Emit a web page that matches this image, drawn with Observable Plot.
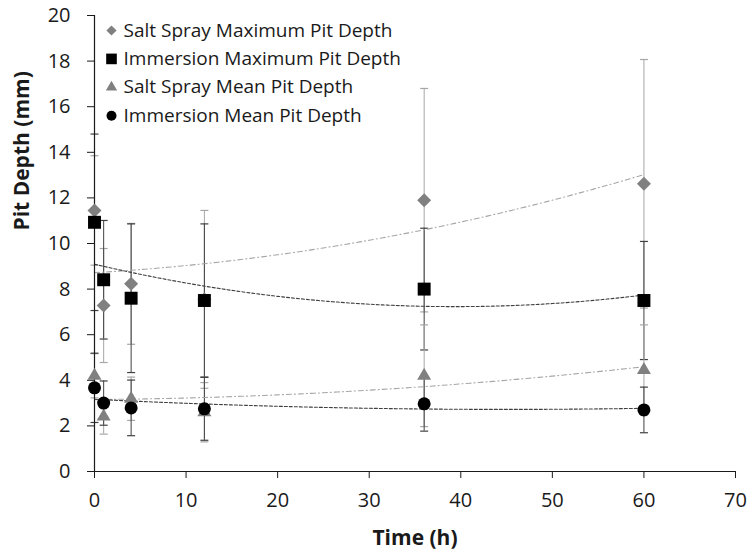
<!DOCTYPE html>
<html>
<head>
<meta charset="utf-8">
<script src="https://cdn.jsdelivr.net/npm/d3@7"></script>
<script src="https://cdn.jsdelivr.net/npm/@observablehq/plot@0.6"></script>
<style>
  html, body { margin: 0; padding: 0; background: #ffffff; }
  #chart { width: 749px; height: 556px; }
</style>
</head>
<body>
<div id="chart"></div>
<script>
// ---- data ----
const time = [0, 1, 4, 12, 36, 60];
const seriesNames = [
  "Salt Spray Maximum Pit Depth",
  "Immersion Maximum Pit Depth",
  "Salt Spray Mean Pit Depth",
  "Immersion Mean Pit Depth"
];
const saltSprayMax    = [11.45, 7.28, 8.23, 7.55, 11.9, 12.62];
const saltSprayMaxErr = [2.4, 2.5, 2.65, 3.9, 4.9, 5.45];
const immersionMax    = [10.93, 8.41, 7.6, 7.5, 8.0, 7.5];
const immersionMaxErr = [3.87, 2.6, 3.26, 3.36, 2.67, 2.59];
const saltSprayMean    = [4.2, 2.41, 3.19, 2.6, 4.2, 4.45];
const saltSprayMeanErr = [0.97, 0.77, 0.95, 1.3, 2.23, 1.98];
const immersionMean    = [3.67, 3.0, 2.79, 2.75, 2.97, 2.7];
const immersionMeanErr = [1.52, 0.97, 1.22, 1.38, 1.2, 1.0];
const xTicks = [0, 10, 20, 30, 40, 50, 60, 70];
const yTicks = [0, 2, 4, 6, 8, 10, 12, 14, 16, 18, 20];
const xLabel = "Time (h)";
const yLabel = "Pit Depth (mm)";

// ---- styles ----
const styles = [
  {symbol: "diamond2", r: 6.3, lr: 4.6, fill: "#808080", err: "#a6a6a6", trend: "#a6a6a6", dash: "5,3,1,3"},
  {symbol: "square",   r: 7.3, lr: 6.0, fill: "#000000", err: "#404040", trend: "#404040", dash: "3,2"},
  {symbol: "triangle", r: 5.2, lr: 4.2, fill: "#808080", err: "#a6a6a6", trend: "#a6a6a6", dash: "5,3,1,3"},
  {symbol: "circle",   r: 6.5, lr: 5.0, fill: "#000000", err: "#404040", trend: "#404040", dash: "3,2"}
];
const values = [saltSprayMax, immersionMax, saltSprayMean, immersionMean];
const errors = [saltSprayMaxErr, immersionMaxErr, saltSprayMeanErr, immersionMeanErr];

const tables = values.map((vals, s) => time.map((t, i) => ({
  series: seriesNames[s], t, v: vals[i], lo: vals[i] - errors[s][i], hi: vals[i] + errors[s][i]
})));

// quadratic least-squares trendline (as Excel's polynomial order 2)
function quadFit(xs, ys) {
  const S = k => d3.sum(xs, x => Math.pow(x, k));
  const T = k => d3.sum(xs, (x, i) => Math.pow(x, k) * ys[i]);
  const A = [[S(0), S(1), S(2), T(0)], [S(1), S(2), S(3), T(1)], [S(2), S(3), S(4), T(2)]];
  for (let c = 0; c < 3; c++) {
    for (let r = c + 1; r < 3; r++) {
      const f = A[r][c] / A[c][c];
      for (let k = c; k < 4; k++) A[r][k] -= f * A[c][k];
    }
  }
  const sol = [0, 0, 0];
  for (let r = 2; r >= 0; r--) {
    let s = A[r][3];
    for (let k = r + 1; k < 3; k++) s -= A[r][k] * sol[k];
    sol[r] = s / A[r][r];
  }
  return x => sol[0] + sol[1] * x + sol[2] * x * x;
}
const xs = d3.range(d3.min(time), d3.max(time) + 0.001, 0.5);
const trends = values.map(vals => {
  const f = quadFit(time, vals);
  return xs.map(x => ({t: x, v: f(x)}));
});

const capSymbol = {draw(ctx) { ctx.moveTo(-4, 0); ctx.lineTo(4, 0); }};

const marks = [];
// error bars
tables.forEach((tbl, s) => {
  marks.push(Plot.ruleX(tbl, {x: "t", y1: "lo", y2: "hi", stroke: styles[s].err, strokeWidth: 1}));
  marks.push(Plot.dot(tbl, {x: "t", y: "lo", symbol: capSymbol, stroke: styles[s].err, strokeWidth: 1.2, fill: "none"}));
  marks.push(Plot.dot(tbl, {x: "t", y: "hi", symbol: capSymbol, stroke: styles[s].err, strokeWidth: 1.2, fill: "none"}));
});
// trendlines
trends.forEach((tr, s) => {
  marks.push(Plot.line(tr, {x: "t", y: "v", stroke: styles[s].trend, strokeWidth: 1.1, strokeDasharray: styles[s].dash, curve: "linear"}));
});
// axes
marks.push(Plot.axisY({ticks: yTicks, tickSize: 7, tickPadding: 17, label: null, fontSize: 20, stroke: "#1a1a1a"}));
marks.push(Plot.axisX({ticks: xTicks, tickSize: 7, tickPadding: 14, label: null, fontSize: 20, stroke: "#1a1a1a"}));
marks.push(Plot.ruleX([0], {stroke: "#1a1a1a", strokeWidth: 1.2}));
marks.push(Plot.ruleY([0], {stroke: "#1a1a1a", strokeWidth: 1.2}));
// markers
tables.forEach((tbl, s) => {
  marks.push(Plot.dot(tbl, {x: "t", y: "v", symbol: styles[s].symbol, r: styles[s].r, fill: styles[s].fill, stroke: "none"}));
});
// axis titles
marks.push(Plot.text([yLabel], {frameAnchor: "left", rotate: -90, dx: -72, dy: -13, text: d => d, fontSize: 21, fontWeight: "bold", fill: "#1a1a1a"}));
marks.push(Plot.text([xLabel], {frameAnchor: "bottom", dy: 73, text: d => d, fontSize: 21, fontWeight: "bold", fill: "#1a1a1a"}));
// legend (inside plot, top-left)
seriesNames.forEach((name, s) => {
  const dy = 15 + s * 28.4;
  marks.push(Plot.dot([name], {frameAnchor: "top-left", dx: 17, dy, symbol: styles[s].symbol, r: styles[s].lr, fill: styles[s].fill, stroke: "none"}));
  marks.push(Plot.text([name], {frameAnchor: "top-left", dx: 29, dy, text: d => d, textAnchor: "start", lineAnchor: "middle", fontSize: 19, fill: "#1a1a1a"}));
});

const chart = Plot.plot({
  width: 749,
  height: 556,
  marginLeft: 94,
  marginRight: 14,
  marginTop: 15,
  marginBottom: 85,
  style: {fontFamily: "'Open Sans', sans-serif", fontSize: "20px", color: "#1a1a1a", background: "#ffffff", overflow: "visible"},
  x: {domain: [0, 70], axis: null},
  y: {domain: [0, 20], axis: null},
  marks
});
document.getElementById("chart").appendChild(chart);
</script>
</body>
</html>
